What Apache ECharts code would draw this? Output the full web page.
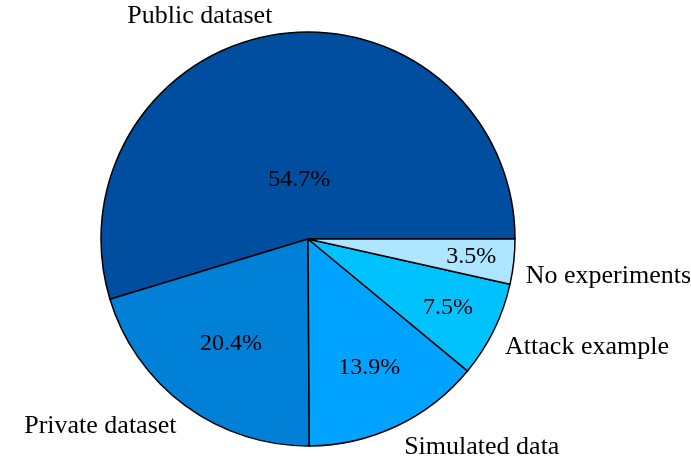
<!DOCTYPE html>
<html>
<head>
<meta charset="utf-8">
<script src="https://cdn.jsdelivr.net/npm/echarts@6/dist/echarts.min.js"></script>
<style>html,body{margin:0;padding:0;background:#fff}#c{width:691px;height:459px}</style>
</head>
<body>
<div id="c"></div>
<script>
// ---- data ----
const categories = ['Public dataset', 'Private dataset', 'Simulated data', 'Attack example', 'No experiments'];
const shares = [54.7, 20.4, 13.9, 7.5, 3.5];

// ---- style ----
const colors = ['#004EA0', '#0080D6', '#00A3FF', '#00C2FF', '#AEE5FF'];
const CX = 308, CY = 239, R = 207;
const FONT = '"Liberation Serif", "Times New Roman", serif';
const NAME_GAP = 8, X_PAD = 4, UP_PAD = 3, DOWN_PAD = 1;

const total = shares.reduce((a, b) => a + b, 0);
function sliceGeom(i) {
  let start = 0;
  for (let k = 0; k < i; k++) start += shares[k] / total * 360;
  const span = shares[i] / total * 360;
  const mid = (start + span / 2) * Math.PI / 180;
  return { span, cos: Math.cos(mid), sin: Math.sin(mid) };
}

const data = categories.map((n, i) => ({ name: n, value: shares[i], itemStyle: { color: colors[i] } }));

const chart = echarts.init(document.getElementById('c'), null, { renderer: 'canvas' });
chart.setOption({
  animation: false,
  backgroundColor: '#fff',
  series: [
    {
      type: 'pie',
      center: [CX, CY],
      radius: R,
      startAngle: 0,
      clockwise: false,
      avoidLabelOverlap: false,
      silent: true,
      data: data,
      itemStyle: { borderColor: '#000', borderWidth: 1.5 },
      label: {
        show: true,
        position: 'inside',
        formatter: p => p.value.toFixed(1) + '%',
        color: '#000',
        fontFamily: FONT,
        fontSize: 24
      },
      labelLine: { show: false },
      labelLayout: function (p) {
        const g = sliceGeom(p.dataIndex);
        const f = 0.8 + Math.min(0, -0.3 * (g.span - 10) / 110);
        return { x: CX + f * R * g.cos, y: CY - f * R * g.sin, align: 'center', verticalAlign: 'middle' };
      }
    },
    {
      type: 'pie',
      center: [CX, CY],
      radius: R,
      startAngle: 0,
      clockwise: false,
      avoidLabelOverlap: false,
      silent: true,
      data: categories.map((n, i) => ({ name: n, value: shares[i] })),
      itemStyle: { color: 'rgba(0,0,0,0)', borderWidth: 0 },
      label: {
        show: true,
        position: 'outside',
        formatter: '{b}',
        color: '#000',
        fontFamily: FONT,
        fontSize: 26
      },
      labelLine: { show: false },
      labelLayout: function (p) {
        const g = sliceGeom(p.dataIndex);
        const r = R + NAME_GAP;
        const left = g.cos >= 0;
        const up = g.sin > 0;
        return {
          x: CX + r * g.cos + (left ? X_PAD : -X_PAD),
          y: CY - r * g.sin + (up ? UP_PAD : DOWN_PAD),
          align: left ? 'left' : 'right',
          verticalAlign: up ? 'bottom' : 'top'
        };
      }
    }
  ]
});
</script>
</body>
</html>
